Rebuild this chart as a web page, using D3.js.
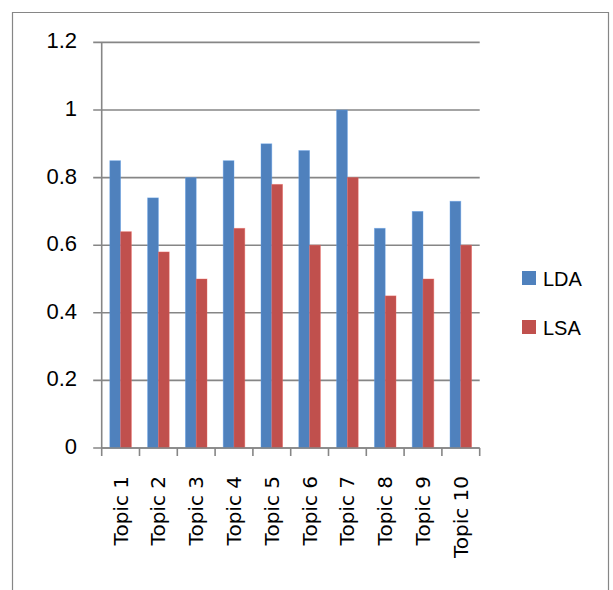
<!DOCTYPE html>
<html>
<head>
<meta charset="utf-8">
<script src="https://cdn.jsdelivr.net/npm/d3@7"></script>
<style>
  html, body { margin: 0; padding: 0; background: #fff; }
  svg { display: block; }
</style>
</head>
<body>
<svg id="chart" width="613" height="590"></svg>
<script>
// Topic quality scores for two topic models
const topics = ["Topic 1", "Topic 2", "Topic 3", "Topic 4", "Topic 5",
                "Topic 6", "Topic 7", "Topic 8", "Topic 9", "Topic 10"];
const ldaValues = [0.85, 0.74, 0.80, 0.85, 0.90, 0.88, 1.00, 0.65, 0.70, 0.73];
const lsaValues = [0.64, 0.58, 0.50, 0.65, 0.78, 0.60, 0.80, 0.45, 0.50, 0.60];
const seriesNames = ["LDA", "LSA"];
const seriesColors = ["#4F81BD", "#C0504D"];
const yTicks = [0, 0.2, 0.4, 0.6, 0.8, 1, 1.2];

(function () {
  const svg = d3.select("#chart");
  const plotLeft = 101.7, plotRight = 479.7, plotTop = 42.4, plotBottom = 448;
  const gridColor = "#868686";

  // outer frame of the chart area
  svg.append("path")
    .attr("d", "M12.5,600 V12.5 H608.5 V600")
    .attr("fill", "none").attr("stroke", gridColor).attr("stroke-width", 1.2);

  const x = d3.scaleBand().domain(topics).range([plotLeft, plotRight]).padding(0);
  // two bars per category, 150% gap width split on both sides
  const inner = d3.scaleBand().domain(seriesNames).range([0, x.bandwidth()])
    .paddingInner(0).paddingOuter(0.75);
  const y = d3.scaleLinear().domain([0, 1.2]).range([plotBottom, plotTop]);

  // horizontal gridlines with tick stubs to the left of the axis
  svg.append("g").selectAll("line").data(yTicks).join("line")
    .attr("x1", plotLeft - 8.5).attr("x2", plotRight)
    .attr("y1", d => y(d)).attr("y2", d => y(d))
    .attr("stroke", gridColor).attr("stroke-width", 1.6);

  // y tick labels
  svg.append("g").selectAll("text").data(yTicks).join("text")
    .attr("x", 77).attr("y", d => y(d) + 6)
    .attr("text-anchor", "end")
    .attr("font-family", "'Liberation Sans', Arial, sans-serif")
    .attr("font-size", 22).attr("fill", "#000")
    .text(d => d3.format("~g")(d));

  // bars
  const series = [ldaValues, lsaValues];
  series.forEach((vals, si) => {
    svg.append("g").selectAll("rect").data(topics).join("rect")
      .attr("x", t => x(t) + inner(seriesNames[si]))
      .attr("width", inner.bandwidth())
      .attr("y", (t, i) => y(vals[i]))
      .attr("height", (t, i) => plotBottom - y(vals[i]))
      .attr("fill", seriesColors[si])
      .attr("stroke", d3.color(seriesColors[si]).brighter(0.6))
      .attr("stroke-opacity", 0.5)
      .attr("stroke-width", 0.8);
  });

  // y axis line
  svg.append("line")
    .attr("x1", plotLeft).attr("x2", plotLeft).attr("y1", plotTop).attr("y2", plotBottom)
    .attr("stroke", gridColor).attr("stroke-width", 1.6);

  // x axis with tick marks at the band boundaries
  const bounds = topics.map(t => x(t)).concat([plotRight]);
  svg.append("line")
    .attr("x1", plotLeft).attr("x2", plotRight).attr("y1", plotBottom).attr("y2", plotBottom)
    .attr("stroke", gridColor).attr("stroke-width", 1.6);
  svg.append("g").selectAll("line").data(bounds).join("line")
    .attr("x1", d => d).attr("x2", d => d)
    .attr("y1", plotBottom).attr("y2", plotBottom + 8)
    .attr("stroke", gridColor).attr("stroke-width", 1.6);

  // rotated category labels
  svg.append("g").selectAll("text").data(topics).join("text")
    .attr("transform", t => `translate(${x(t) + x.bandwidth() / 2 + 7},476) rotate(-90)`)
    .attr("text-anchor", "end")
    .attr("font-family", "'DejaVu Sans', sans-serif")
    .attr("font-size", 20).attr("fill", "#000")
    .text(t => t);

  // legend
  const legend = svg.append("g");
  seriesNames.forEach((name, i) => {
    const ly = 271 + i * 49;
    legend.append("rect")
      .attr("x", 522).attr("y", ly).attr("width", 14).attr("height", 14)
      .attr("fill", seriesColors[i]);
    legend.append("text")
      .attr("x", 543).attr("y", ly + 14.5)
      .attr("font-family", "'Liberation Sans', Arial, sans-serif")
      .attr("font-size", 20).attr("fill", "#000")
      .text(name);
  });
})();
</script>
</body>
</html>
